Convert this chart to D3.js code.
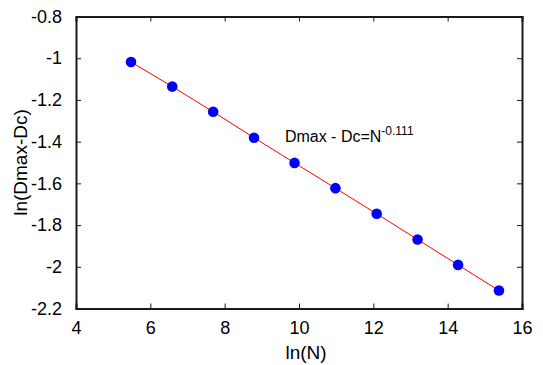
<!DOCTYPE html>
<html>
<head>
<meta charset="utf-8">
<script src="https://cdn.jsdelivr.net/npm/d3@7"></script>
<style>
  html,body{margin:0;padding:0;background:#fff}
  svg{display:block;font-family:"Liberation Sans",Arial,sans-serif}
</style>
</head>
<body>
<svg id="chart" width="543" height="365"></svg>
<script>
// ln(N) and ln(Dmax-Dc)
const lnN = [5.48, 6.59, 7.69, 8.79, 9.88, 10.98, 12.09, 13.19, 14.28, 15.38];
const lnD = [-1.018, -1.136, -1.257, -1.381, -1.502, -1.623, -1.746, -1.869, -1.991, -2.114];
const xTicks = [4, 6, 8, 10, 12, 14, 16];
const yTicks = [-0.8, -1, -1.2, -1.4, -1.6, -1.8, -2, -2.2];
const fitLabel = 'Dmax - Dc=N';
const fitExp = '-0.111';

const W = 543, H = 365;
const margin = { top: 16.5, right: 21, bottom: 56.5, left: 76 };
const width = W - margin.left - margin.right;
const height = H - margin.top - margin.bottom;

const svg = d3.select('#chart');
const g = svg.append('g').attr('transform', `translate(${margin.left},${margin.top})`);

const x = d3.scaleLinear().domain([4, 16]).range([0, width]);
const y = d3.scaleLinear().domain([-2.2, -0.8]).range([height, 0]);

const fmt = d => String(+d.toFixed(1));

// inward ticks on all four sides
g.append('g').attr('class', 'ax').attr('transform', `translate(0,${height})`)
  .call(d3.axisBottom(x).tickValues(xTicks).tickSize(-5).tickPadding(13).tickFormat(fmt));
g.append('g').attr('class', 'ax')
  .call(d3.axisTop(x).tickValues(xTicks).tickSize(-5).tickFormat(''));
g.append('g').attr('class', 'ax')
  .call(d3.axisLeft(y).tickValues(yTicks).tickSize(-5).tickPadding(14).tickFormat(fmt));
g.append('g').attr('class', 'ax').attr('transform', `translate(${width},0)`)
  .call(d3.axisRight(y).tickValues(yTicks).tickSize(-5).tickFormat(''));

g.selectAll('.ax .domain').attr('stroke', '#1a1a1a').attr('stroke-width', 2);
g.selectAll('.ax line').attr('stroke', '#1a1a1a').attr('stroke-width', 1);
g.selectAll('.ax text').attr('fill', '#000').style('font-size', '18px')
  .style('font-family', '"Liberation Sans",Arial,sans-serif');

// axis titles
g.append('text').attr('x', 230).attr('y', height + 50)
  .attr('text-anchor', 'middle').attr('fill', '#000').style('font-size', '19px').text('ln(N)');
g.append('text').attr('transform', 'rotate(-90)').attr('x', -height / 2).attr('y', -49)
  .attr('text-anchor', 'middle').attr('fill', '#000').style('font-size', '19px').text('ln(Dmax-Dc)');

// fit line + points
const pts = lnN.map((v, i) => ({ x: v, y: lnD[i] }));
g.append('path').datum(pts)
  .attr('fill', 'none').attr('stroke', '#ff0000').attr('stroke-width', 1)
  .attr('d', d3.line().x(d => x(d.x)).y(d => y(d.y)));
g.selectAll('circle').data(pts).enter().append('circle')
  .attr('cx', d => x(d.x)).attr('cy', d => y(d.y))
  .attr('r', 5.3).attr('fill', '#0000ff');

// annotation
const ann = g.append('text').attr('x', x(9.62)).attr('y', y(-1.39) + 2)
  .attr('fill', '#000').style('font-size', '16px');
ann.append('tspan').text(fitLabel);
ann.append('tspan').attr('dy', -7).style('font-size', '12px').text(fitExp);
</script>
</body>
</html>
